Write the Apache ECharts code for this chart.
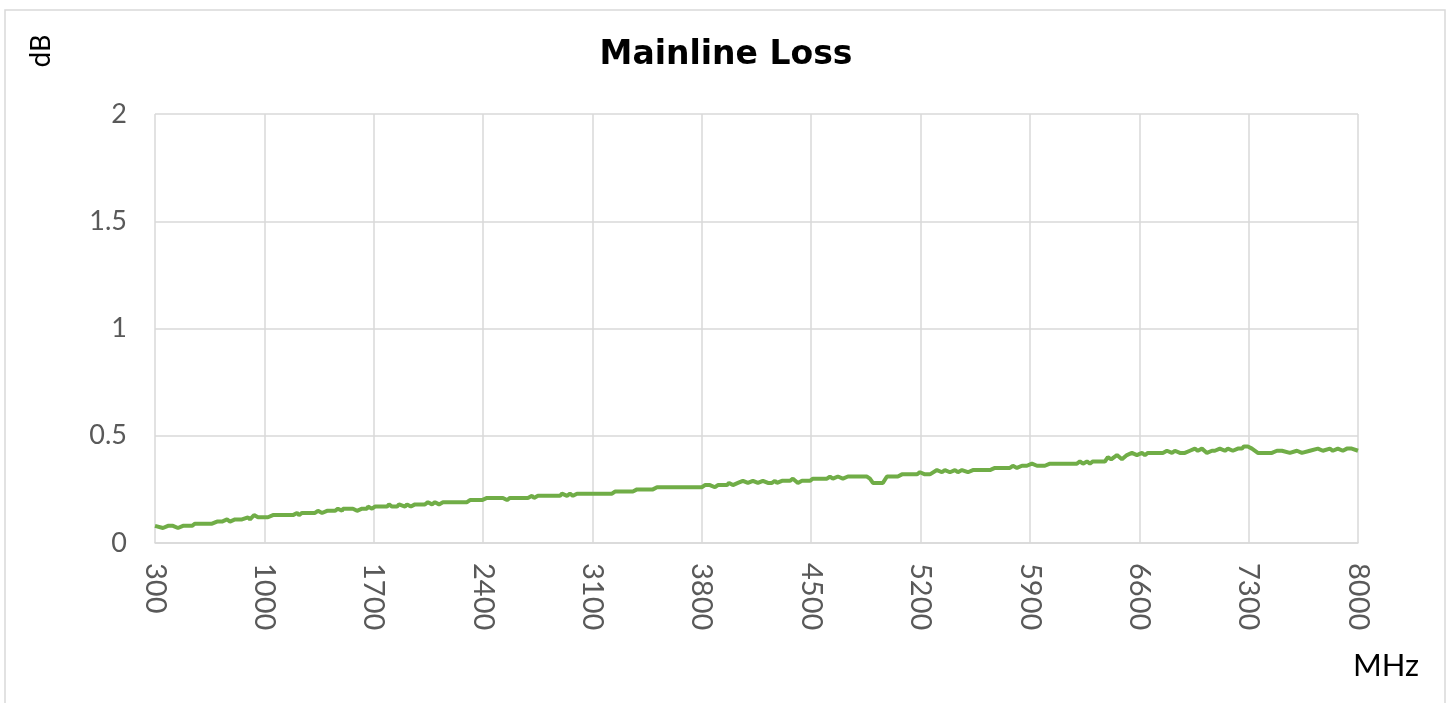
<!DOCTYPE html>
<html>
<head>
<meta charset="utf-8">
<script src="https://cdn.jsdelivr.net/npm/echarts@6/dist/echarts.min.js"></script>
<style>
    html, body { margin: 0; padding: 0; background: #fff; }
    #chart { width: 1452px; height: 703px; }
</style>
</head>
<body>
<div id="chart"></div>
<script>
// frequency points (MHz) and mainline loss (dB)
var freqs = [
    300, 351, 383, 415, 447, 479, 537, 556, 665, 697, 729, 761, 780, 812, 857, 895, 908, 934, 959, 1023,
    1055, 1183, 1209, 1222, 1241, 1324, 1343, 1369, 1401, 1452, 1471, 1497, 1503, 1567, 1593, 1625, 1657, 1663, 1689, 1708,
    1785, 1798, 1817, 1849, 1862, 1900, 1913, 1938, 1964, 2028, 2047, 2073, 2092, 2118, 2143, 2297, 2316, 2393, 2425, 2527,
    2553, 2572, 2687, 2713, 2726, 2751, 2892, 2905, 2937, 2956, 2975, 3001, 3225, 3244, 3359, 3385, 3487, 3513, 3801, 3820,
    3852, 3884, 3903, 3961, 3974, 3999, 4031, 4063, 4095, 4127, 4159, 4191, 4223, 4249, 4268, 4281, 4313, 4364, 4383, 4415,
    4441, 4492, 4511, 4601, 4620, 4639, 4671, 4703, 4735, 4857, 4876, 4895, 4959, 4985, 5055, 5081, 5177, 5196, 5228, 5260,
    5305, 5337, 5356, 5388, 5420, 5439, 5465, 5503, 5535, 5644, 5676, 5772, 5791, 5817, 5849, 5881, 5913, 5945, 5996, 6028,
    6201, 6220, 6240, 6265, 6284, 6303, 6380, 6399, 6420, 6457, 6489, 6521, 6553, 6585, 6617, 6636, 6655, 6751, 6777, 6809,
    6828, 6860, 6892, 6924, 6956, 6975, 7001, 7033, 7065, 7084, 7116, 7148, 7167, 7199, 7231, 7257, 7270, 7295, 7321, 7359,
    7449, 7481, 7513, 7564, 7609, 7641, 7692, 7743, 7775, 7820, 7839, 7871, 7903, 7929, 7960, 8000
]
var loss = [
    0.08, 0.07, 0.08, 0.08, 0.07, 0.08, 0.08, 0.09, 0.09, 0.10, 0.10, 0.11, 0.10, 0.11, 0.11, 0.12, 0.11, 0.13, 0.12, 0.12,
    0.13, 0.13, 0.14, 0.13, 0.14, 0.14, 0.15, 0.14, 0.15, 0.15, 0.16, 0.15, 0.16, 0.16, 0.15, 0.16, 0.16, 0.17, 0.16, 0.17,
    0.17, 0.18, 0.17, 0.17, 0.18, 0.17, 0.18, 0.17, 0.18, 0.18, 0.19, 0.18, 0.19, 0.18, 0.19, 0.19, 0.20, 0.20, 0.21, 0.21,
    0.20, 0.21, 0.21, 0.22, 0.21, 0.22, 0.22, 0.23, 0.22, 0.23, 0.22, 0.23, 0.23, 0.24, 0.24, 0.25, 0.25, 0.26, 0.26, 0.27,
    0.27, 0.26, 0.27, 0.27, 0.28, 0.27, 0.28, 0.29, 0.28, 0.29, 0.28, 0.29, 0.28, 0.28, 0.29, 0.28, 0.29, 0.29, 0.30, 0.28,
    0.29, 0.29, 0.30, 0.30, 0.31, 0.30, 0.31, 0.30, 0.31, 0.31, 0.30, 0.28, 0.28, 0.31, 0.31, 0.32, 0.32, 0.33, 0.32, 0.32,
    0.34, 0.33, 0.34, 0.33, 0.34, 0.33, 0.34, 0.33, 0.34, 0.34, 0.35, 0.35, 0.36, 0.35, 0.36, 0.36, 0.37, 0.36, 0.36, 0.37,
    0.37, 0.38, 0.37, 0.38, 0.37, 0.38, 0.38, 0.40, 0.39, 0.41, 0.39, 0.41, 0.42, 0.41, 0.42, 0.41, 0.42, 0.42, 0.43, 0.42,
    0.43, 0.42, 0.42, 0.43, 0.44, 0.43, 0.44, 0.42, 0.43, 0.43, 0.44, 0.43, 0.44, 0.43, 0.44, 0.44, 0.45, 0.45, 0.44, 0.42,
    0.42, 0.43, 0.43, 0.42, 0.43, 0.42, 0.43, 0.44, 0.43, 0.44, 0.43, 0.44, 0.43, 0.44, 0.44, 0.43
]
var xTicks = [300, 8000, 700]   // min, max, step
var yTicks = [0, 2, 0.5]

var lineColor = '#70ad47'
var gridColor = '#d9d9d9'
var fontColor = '#595959'

var points = []
for (var i = 0; i < freqs.length; i++) {
    points.push([freqs[i], loss[i]])
}

var myChart = echarts.init(document.getElementById('chart'))
var option = {
    animation: false,
    backgroundColor: '#fff',
    grid: {
        left: 155,
        right: 94,
        top: 114,
        bottom: 160
    },
    graphic: [
        {
            type: 'rect',
            shape: { x: 5, y: 10, width: 1440, height: 720 },
            style: { fill: 'none', stroke: gridColor, lineWidth: 1.5 },
            silent: true
        },
        {
            type: 'text',
            x: 726,
            y: 55,
            style: {
                text: 'Mainline Loss',
                fill: '#000',
                font: 'bold 33px "DejaVu Sans"',
                textAlign: 'center',
                textVerticalAlign: 'middle'
            }
        },
        {
            type: 'text',
            x: 43,
            y: 51,
            rotation: Math.PI / 2,
            style: {
                text: 'dB',
                fill: '#000',
                font: '28px Roboto',
                textAlign: 'center',
                textVerticalAlign: 'middle'
            }
        },
        {
            type: 'text',
            x: 1386,
            y: 666,
            style: {
                text: 'MHz',
                fill: '#000',
                font: '31px Lato',
                textAlign: 'center',
                textVerticalAlign: 'middle'
            }
        }
    ],
    xAxis: {
        type: 'value',
        min: xTicks[0],
        max: xTicks[1],
        interval: xTicks[2],
        axisTick: { show: false },
        axisLine: {
            show: true,
            lineStyle: { color: gridColor, width: 1.5 }
        },
        axisLabel: {
            rotate: -90,
            margin: 20,
            color: fontColor,
            fontFamily: 'Lato',
            fontSize: 29,
            formatter: function(value) {
                return String(value)
            }
        },
        splitLine: {
            show: true,
            lineStyle: { color: gridColor, width: 1.5 }
        }
    },
    yAxis: {
        type: 'value',
        min: yTicks[0],
        max: yTicks[1],
        interval: yTicks[2],
        axisTick: { show: false },
        axisLine: { show: false },
        axisLabel: {
            margin: 28,
            color: fontColor,
            fontFamily: 'Lato',
            fontSize: 27
        },
        splitLine: {
            show: true,
            lineStyle: { color: gridColor, width: 1.5 }
        }
    },
    series: [{
        name: 'Mainline Loss',
        type: 'line',
        data: points,
        showSymbol: false,
        smooth: false,
        lineStyle: { color: lineColor, width: 4 },
        itemStyle: { color: lineColor }
    }]
}
myChart.setOption(option)

window.addEventListener('resize', function() {
    myChart.resize()
})
</script>
</body>
</html>
